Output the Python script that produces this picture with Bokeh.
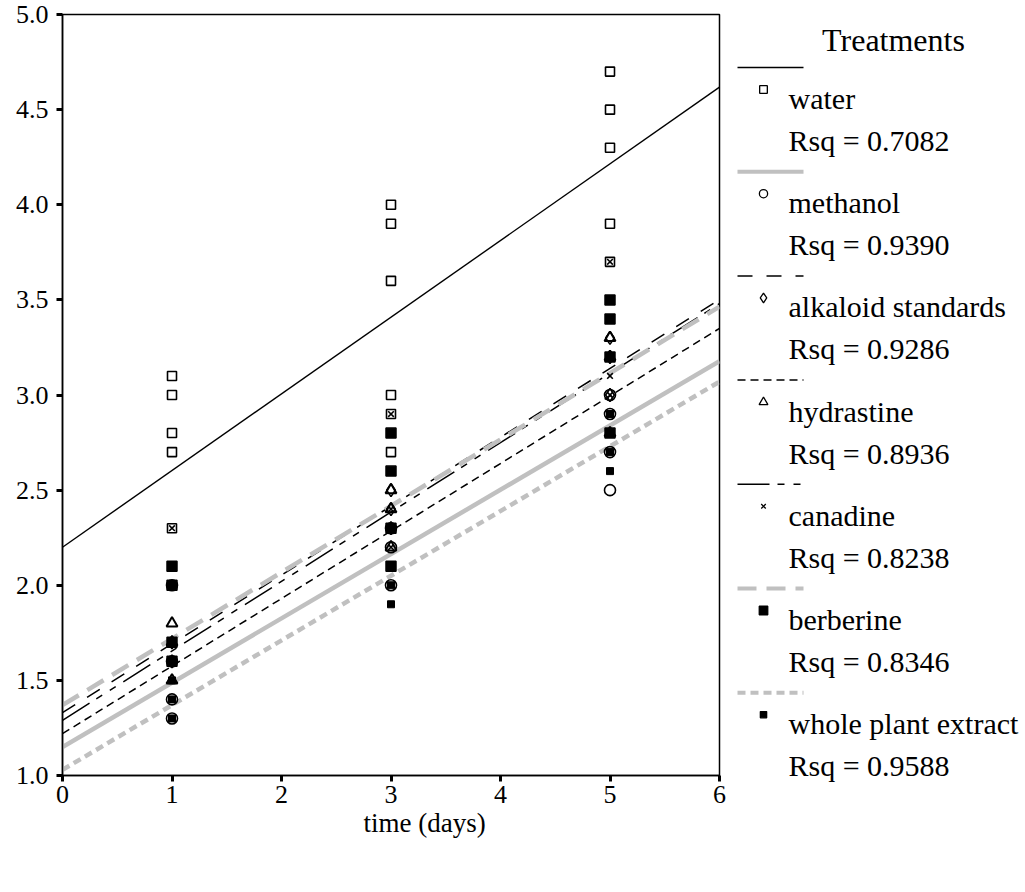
from bokeh.plotting import figure
from bokeh.layouts import row
from bokeh.models import FixedTicker, PrintfTickFormatter, Range1d, Title
from bokeh.embed import file_html
from bokeh.resources import INLINE
from bokeh.core.properties import value

FONT = value("Liberation Serif")

# Treatments, fitted regression lines and goodness of fit
treatments = ["water", "methanol", "alkaloid standards", "hydrastine",
              "canadine", "berberine", "whole plant extract"]
rsq = ["0.7082", "0.9390", "0.9286", "0.8936", "0.8238", "0.8346", "0.9588"]
intercepts = [2.20, 1.15, 1.33, 1.22, 1.29, 1.37, 1.03]
slopes = [0.403, 0.338, 0.362, 0.355, 0.365, 0.349, 0.340]

# Observations: day of measurement and response
water_days = [1, 1, 1, 1, 1, 3, 3, 3, 3, 3, 3, 5, 5, 5, 5, 5]
water_vals = [3.1, 3.0, 2.8, 2.7, 2.3, 4.0, 3.9, 3.6, 3.0, 2.9, 2.7, 4.7, 4.5, 4.3, 3.9, 3.7]

methanol_days = [1, 1, 1, 1, 3, 3, 3, 5, 5, 5, 5]
methanol_vals = [2.0, 1.6, 1.4, 1.3, 2.3, 2.2, 2.0, 3.0, 2.9, 2.7, 2.5]

alkaloid_days = [1, 1, 3, 3, 3, 5, 5, 5]
alkaloid_vals = [1.7, 1.6, 2.5, 2.4, 2.3, 3.3, 3.2, 3.0]

hydrastine_days = [1, 1, 1, 3, 3, 3, 5, 5, 5]
hydrastine_vals = [1.8, 1.7, 1.5, 2.5, 2.4, 2.2, 3.3, 3.2, 2.8]

canadine_days = [1, 1, 1, 3, 3, 3, 5, 5, 5]
canadine_vals = [2.3, 1.6, 1.5, 2.9, 2.4, 2.2, 3.7, 3.1, 3.0]

berberine_days = [1, 1, 1, 1, 3, 3, 3, 3, 5, 5, 5, 5]
berberine_vals = [2.1, 2.0, 1.7, 1.6, 2.8, 2.6, 2.3, 2.1, 3.5, 3.4, 3.2, 2.8]

plant_days = [1, 1, 1, 3, 3, 3, 5, 5, 5]
plant_vals = [1.5, 1.4, 1.3, 2.1, 2.0, 1.9, 2.9, 2.7, 2.6]

day_ticks = [0, 1, 2, 3, 4, 5, 6]
response_ticks = [1.0, 1.5, 2.0, 2.5, 3.0, 3.5, 4.0, 4.5, 5.0]

series = [
    (water_days, water_vals),
    (methanol_days, methanol_vals),
    (alkaloid_days, alkaloid_vals),
    (hydrastine_days, hydrastine_vals),
    (canadine_days, canadine_vals),
    (berberine_days, berberine_vals),
    (plant_days, plant_vals),
]

GREY = "#c0c0c0"
line_styles = [
    dict(line_color="black", line_width=1.4, line_dash="solid"),
    dict(line_color=GREY, line_width=4.5, line_dash="solid"),
    dict(line_color="black", line_width=1.5, line_dash="15 14"),
    dict(line_color="black", line_width=1.5, line_dash="8 5"),
    dict(line_color="black", line_width=1.5, line_dash="32 8 7 9 7 9"),
    dict(line_color=GREY, line_width=4.5, line_dash="19 10"),
    dict(line_color=GREY, line_width=4.5, line_dash="8 5"),
]

marker_styles = [
    dict(marker="square", size=9, fill_color=None, line_color="black", line_width=1.6),
    dict(marker="circle", size=11, fill_color=None, line_color="black", line_width=1.6),
    dict(marker="diamond", size=13, fill_color=None, line_color="black", line_width=1.6),
    dict(marker="triangle", size=11, fill_color=None, line_color="black", line_width=2),
    dict(marker="x", size=8, line_color="black", line_width=1.6),
    dict(marker="square", size=10, fill_color="black", line_color="black", line_width=1.5),
    dict(marker="square", size=7, fill_color="black", line_color="black", line_width=1),
]

legend_marker_scale = [0.85, 0.75, 0.75, 0.8, 0.8, 0.85, 0.9]

# ---- main scatter plot -------------------------------------------------
p = figure(frame_width=657, frame_height=761,
           min_border_left=62, min_border_top=14, min_border_right=11,
           min_border_bottom=117,
           x_range=Range1d(0, 6), y_range=Range1d(1.0, 5.0),
           output_backend="svg", toolbar_location=None,
           background_fill_color="white", border_fill_color="white")
p.grid.visible = False
p.outline_line_color = "black"
p.outline_line_width = 1.5
p.outline_line_alpha = 1.0

for ax in (p.xaxis[0], p.yaxis[0]):
    ax.axis_line_width = 1.5
    ax.axis_line_color = "black"
    ax.major_tick_line_width = 3
    ax.major_tick_line_color = "black"
    ax.major_tick_out = 6
    ax.major_tick_in = 0
    ax.minor_tick_line_color = None
    ax.major_label_text_font = "Liberation Serif"
    ax.major_label_text_font_size = "26px"
    ax.major_label_text_color = "black"

p.xaxis.ticker = FixedTicker(ticks=day_ticks)
p.xaxis.major_label_standoff = 4
p.yaxis.ticker = FixedTicker(ticks=response_ticks)
p.yaxis.formatter = PrintfTickFormatter(format="%.1f")
p.yaxis.major_label_standoff = 8

# regression lines across the full time axis
for b0, b1, st in zip(intercepts, slopes, line_styles):
    xs = [0, 6]
    p.line(xs, [b0 + b1 * x for x in xs], **st)

# observations
for (d, v), ms in zip(series, marker_styles):
    p.scatter(d, v, **ms)

p.add_layout(Title(text="time (days)", align="left", offset=301, standoff=0,
                   text_font="Liberation Serif", text_font_size="27px",
                   text_font_style="normal", text_color="black"), "below")

# ---- legend panel (pixel coordinates, y downwards) ---------------------
lg = figure(frame_width=295, frame_height=892,
            min_border_left=0, min_border_right=0, min_border_top=0, min_border_bottom=0,
            x_range=Range1d(730, 1025), y_range=Range1d(892, 0),
            output_backend="svg", toolbar_location=None,
            background_fill_color="white", border_fill_color="white")
lg.title = None
lg.axis.visible = False
lg.grid.visible = False
lg.outline_line_color = None

top = 53
lg.text(x=[893], y=[top - 28], text=["Treatments"], text_font=FONT, text_font_size="32px",
        text_align="center", text_baseline="middle", text_color="black")

step = 104.2
for i, (name, r, st, ms, sc) in enumerate(zip(treatments, rsq, line_styles,
                                               marker_styles, legend_marker_scale)):
    y0 = top + step * i
    lst = dict(st)
    if lst["line_width"] > 2:
        lst["line_width"] = 4
    lg.line([737, 803], [y0, y0], **lst)
    m = dict(ms)
    m["size"] = m["size"] * sc
    m["line_width"] = 1.3
    lg.scatter([763], [y0 + 22], **m)
    lg.text(x=[788], y=[y0 + 31], text=[name], text_font=FONT, text_font_size="30px",
            text_baseline="middle", text_color="black")
    lg.text(x=[788], y=[y0 + 73], text=["Rsq = " + r], text_font=FONT,
            text_font_size="30px", text_baseline="middle", text_color="black")

layout = row(p, lg)
open("out.html", "w").write(file_html(layout, INLINE))
